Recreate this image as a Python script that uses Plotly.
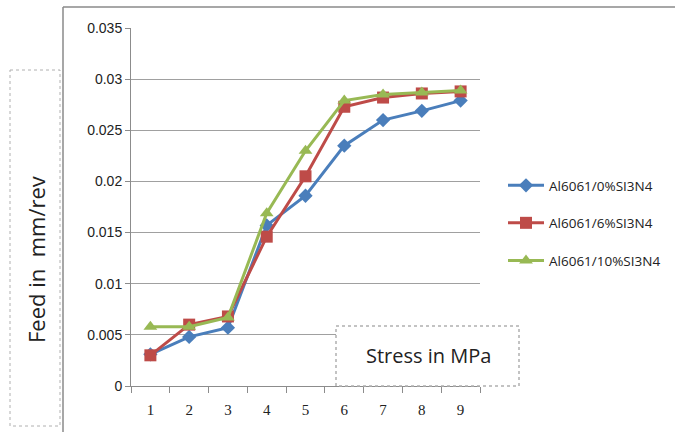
import plotly.graph_objects as go

categories = [1, 2, 3, 4, 5, 6, 7, 8, 9]
s0 = [0.0031, 0.0048, 0.0057, 0.0157, 0.0186, 0.0235, 0.0260, 0.0269, 0.0279]
s6 = [0.0030, 0.0060, 0.0068, 0.0146, 0.0205, 0.0273, 0.0282, 0.0286, 0.0288]
s10 = [0.0058, 0.0058, 0.0067, 0.0169, 0.0230, 0.0279, 0.0285, 0.0287, 0.0289]
names = ["Al6061/0%SI3N4", "Al6061/6%SI3N4", "Al6061/10%SI3N4"]
colors = ["#4A7EBB", "#BE4B48", "#98B954"]
symbols = ["diamond", "square", "triangle-up"]
msizes = [11, 12, 12]
yticks = [0, 0.005, 0.01, 0.015, 0.02, 0.025, 0.03, 0.035]
ytick_text = ["0", "0.005", "0.01", "0.015", "0.02", "0.025", "0.03", "0.035"]

W, H = 675, 432
L, R, T, B = 131, 480, 28, 386


def px(x):
    return (x - L) / (R - L)


def py(y):
    return (B - y) / (B - T)


fig = go.Figure()
for i, s in enumerate([s0, s6, s10]):
    fig.add_trace(go.Scatter(
        x=categories, y=s, name=names[i], mode="lines+markers",
        legendgroup=str(i),
        line=dict(color=colors[i], width=3),
        marker=dict(symbol=symbols[i], size=msizes[i], color=colors[i]),
    ))

fig.update_layout(
    width=W, height=H,
    margin=dict(l=L, r=W - R, t=T, b=H - B, autoexpand=False),
    paper_bgcolor="white", plot_bgcolor="white",
    showlegend=True,
    legend=dict(x=px(503), y=py(170), xanchor="left", yanchor="top",
                font=dict(family="Open Sans", size=13.5, color="#222"),
                tracegroupgap=17, traceorder="grouped", itemwidth=36,
                bgcolor="rgba(0,0,0,0)"),
    xaxis=dict(range=[0.5, 9.5], tickvals=categories, ticktext=[str(c) for c in categories],
               ticks="", showgrid=False, zeroline=False,
               showline=True, linecolor="#8c8c8c", linewidth=1,
               tickfont=dict(family="Liberation Serif", size=15, color="#222"),
               ticklabelstandoff=10,
               minor=dict(tickvals=[c - 0.5 for c in categories] + [9.5],
                          ticks="outside", ticklen=6, tickcolor="#8c8c8c", showgrid=False)),
    yaxis=dict(range=[0, 0.035], tickvals=yticks, ticktext=ytick_text,
               showgrid=True, gridcolor="#a0a0a0", gridwidth=1, zeroline=False,
               showline=True, linecolor="#8c8c8c", linewidth=1,
               ticks="outside", ticklen=5, tickcolor="#8c8c8c",
               tickfont=dict(family="Liberation Sans", size=14, color="#222")),
)

shapes = [
    # chart area border
    dict(type="line", xref="paper", yref="paper", x0=px(63), x1=px(63), y0=py(7), y1=py(432),
         line=dict(color="#8a8a8a", width=1.5)),
    dict(type="line", xref="paper", yref="paper", x0=px(63), x1=px(675), y0=py(7), y1=py(7),
         line=dict(color="#8a8a8a", width=1.5)),
    # y-title box
    dict(type="rect", xref="paper", yref="paper", x0=px(10), x1=px(60), y0=py(70), y1=py(426),
         line=dict(color="#b0b0b0", width=1, dash="dot"), fillcolor="white"),
    # x-title box
    dict(type="rect", xref="paper", yref="paper", x0=px(336), x1=px(519), y0=py(326), y1=py(386),
         line=dict(color="#b0b0b0", width=1.5, dash="dot"), fillcolor="white", layer="above"),
]
fig.update_layout(shapes=shapes)

fig.add_annotation(text="Feed in  mm/rev", xref="paper", yref="paper",
                   x=px(36), y=py(260), xanchor="center", yanchor="middle",
                   textangle=-90, showarrow=False,
                   font=dict(family="Open Sans", size=22, color="#222"))
fig.add_annotation(text="Stress in MPa", xref="paper", yref="paper",
                   x=px(428), y=py(355), xanchor="center", yanchor="middle",
                   showarrow=False,
                   font=dict(family="Open Sans", size=20, color="#222"))

fig.write_html("out.html")
